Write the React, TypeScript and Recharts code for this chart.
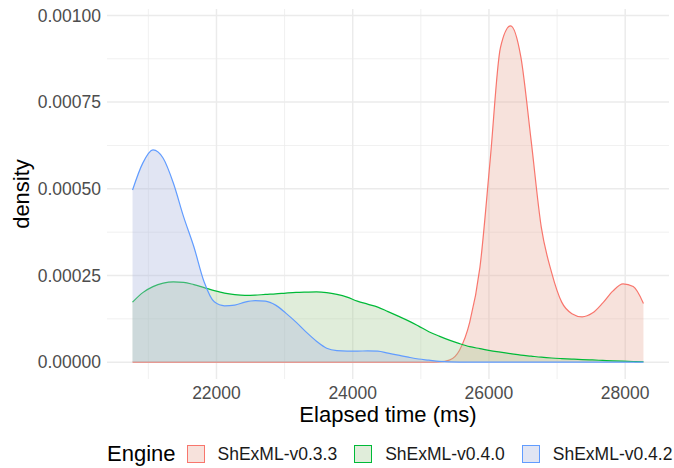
import { ComposedChart, Area, XAxis, YAxis, CartesianGrid } from "recharts";

// elapsed time grid (ms) the densities were read at
const elapsed = [
  20768, 20918, 21068, 21218, 21368, 21518, 21668, 21818, 21968, 22118,
  22268, 22418, 22568, 22718, 22868, 23018, 23168, 23318, 23468, 23618,
  23768, 23918, 24068, 24218, 24368, 24518, 24668, 24818, 24968, 25118,
  25268, 25418, 25568, 25718, 25868, 26018, 26168, 26318, 26468, 26618,
  26768, 26918, 27068, 27218, 27368, 27518, 27668, 27818, 27968, 28118,
  28268,
];

// densities, in units of 1e-5
const shexml033 = [
  0, 0, 0, 0, 0, 0, 0, 0, 0, 0,
  0, 0, 0, 0, 0, 0, 0, 0, 0, 0,
  0, 0, 0, 0, 0, 0, 0, 0, 0, 0,
  0.06, 0.58, 3.46, 11.55, 27.42, 58.31, 90.65, 97.0, 88.05, 64.09,
  38.97, 25.98, 17.32, 14.0, 13.08, 14.15, 17.03, 20.5, 22.58, 21.8,
  16.95,
];
const shexml040 = [
  17.32, 20.06, 21.8, 22.81, 23.18, 23.04, 22.37, 21.51, 20.64, 19.92,
  19.49, 19.28, 19.34, 19.54, 19.69, 19.92, 20.12, 20.21, 20.27, 20.06,
  19.54, 18.76, 17.61, 16.74, 15.88, 14.58, 13.28, 11.92, 10.39, 8.8,
  7.51, 6.35, 5.34, 4.47, 3.9, 3.32, 2.89, 2.45, 2.02, 1.73,
  1.44, 1.21, 1.04, 0.89, 0.75, 0.64, 0.52, 0.4, 0.29, 0.2,
  0.12,
];
const shexml042 = [
  49.65, 57.4, 61.2, 58.8, 51.6, 41.9, 33.3, 23.2, 17.4, 16.25,
  16.45, 17.32, 17.75, 17.61, 16.45, 14.15, 11.55, 8.66, 6.06, 4.04,
  3.32, 3.18, 3.18, 3.26, 3.18, 2.6, 2.02, 1.44, 0.92, 0.58,
  0.23, 0.06, 0.02, 0.01, 0, 0, 0, 0, 0, 0,
  0, 0, 0, 0, 0, 0, 0, 0, 0, 0,
  0,
];
const UNIT = 1e-5;

const engines = ["ShExML-v0.3.3", "ShExML-v0.4.0", "ShExML-v0.4.2"];
const keys = ["v033", "v040", "v042"];
const lineColors = ["#F8766D", "#00BA38", "#619CFF"];
const fillColors = ["#E8AC9B", "#A6CC95", "#A9B5DD"];

const xTicks = [22000, 24000, 26000, 28000];
const xMinor = [21000, 23000, 25000, 27000];
const yTicks = [0, 0.00025, 0.0005, 0.00075, 0.001];
const yMinor = [0.000125, 0.000375, 0.000625, 0.000875];

const FONT = "'Liberation Sans', Arial, sans-serif";

const data = elapsed.map((x, i) => ({
  x,
  v033: shexml033[i] * UNIT,
  v040: shexml040[i] * UNIT,
  v042: shexml042[i] * UNIT,
}));

function LegendBar() {
  return (
    <div
      style={{
        position: "absolute",
        left: 107,
        top: 441,
        height: 26,
        display: "flex",
        alignItems: "center",
        fontFamily: FONT,
        whiteSpace: "nowrap",
      }}
    >
      <span style={{ fontSize: 22, marginRight: 11 }}>Engine</span>
      {engines.map((name, i) => (
        <span key={name} style={{ display: "flex", alignItems: "center" }}>
          <span
            style={{
              width: 16,
              height: 16,
              border: `1px solid ${lineColors[i]}`,
              background: fillColors[i],
              boxSizing: "content-box",
              marginRight: 13,
              position: "relative",
            }}
          >
            <span
              style={{
                position: "absolute",
                inset: 0,
                background: "#fff",
                opacity: 0.65,
              }}
            />
          </span>
          <span style={{ fontSize: 17.5, color: "#1a1a1a", marginRight: 17 }}>{name}</span>
        </span>
      ))}
    </div>
  );
}

export default function App() {
  return (
    <div
      style={{
        position: "absolute",
        left: 0,
        top: 0,
        width: 674,
        height: 468,
        background: "#fff",
        fontFamily: FONT,
      }}
    >
      <ComposedChart
        width={674}
        height={468}
        data={data}
        margin={{ top: 9, right: 5, left: 0, bottom: 41 }}
      >
        <CartesianGrid
          stroke="#EBEBEB"
          strokeWidth={0.75}
          verticalValues={xMinor}
          horizontalValues={yMinor}
        />
        <CartesianGrid
          stroke="#EBEBEB"
          strokeWidth={1.5}
          verticalValues={xTicks}
          horizontalValues={yTicks}
        />
        <XAxis
          dataKey="x"
          type="number"
          domain={[20393, 28643]}
          allowDataOverflow
          ticks={xTicks}
          axisLine={false}
          tickLine={false}
          tickSize={0}
          tickMargin={8}
          height={48}
          tick={{ fontSize: 17.5, fill: "#4D4D4D" }}
          label={{
            value: "Elapsed time (ms)",
            position: "insideBottom",
            offset: 5,
            style: { fontSize: 22, fill: "#000" },
          }}
        />
        <YAxis
          type="number"
          domain={[-0.0000485, 0.0010185]}
          allowDataOverflow
          ticks={yTicks}
          tickFormatter={(v: number) => v.toFixed(5)}
          axisLine={false}
          tickLine={false}
          tickSize={0}
          tickMargin={6}
          width={107}
          tick={{ fontSize: 17.5, fill: "#4D4D4D" }}
          label={{
            value: "density",
            angle: -90,
            position: "insideLeft",
            offset: 21,
            style: { fontSize: 22, fill: "#000", textAnchor: "middle" },
          }}
        />
        {keys.map((k, i) => (
          <Area
            key={k}
            dataKey={k}
            name={engines[i]}
            type="monotone"
            baseValue={0}
            stroke={lineColors[i]}
            strokeWidth={1.2}
            fill={fillColors[i]}
            fillOpacity={0.35}
            dot={false}
            activeDot={false}
            isAnimationActive={false}
          />
        ))}
      </ComposedChart>
      <LegendBar />
    </div>
  );
}
